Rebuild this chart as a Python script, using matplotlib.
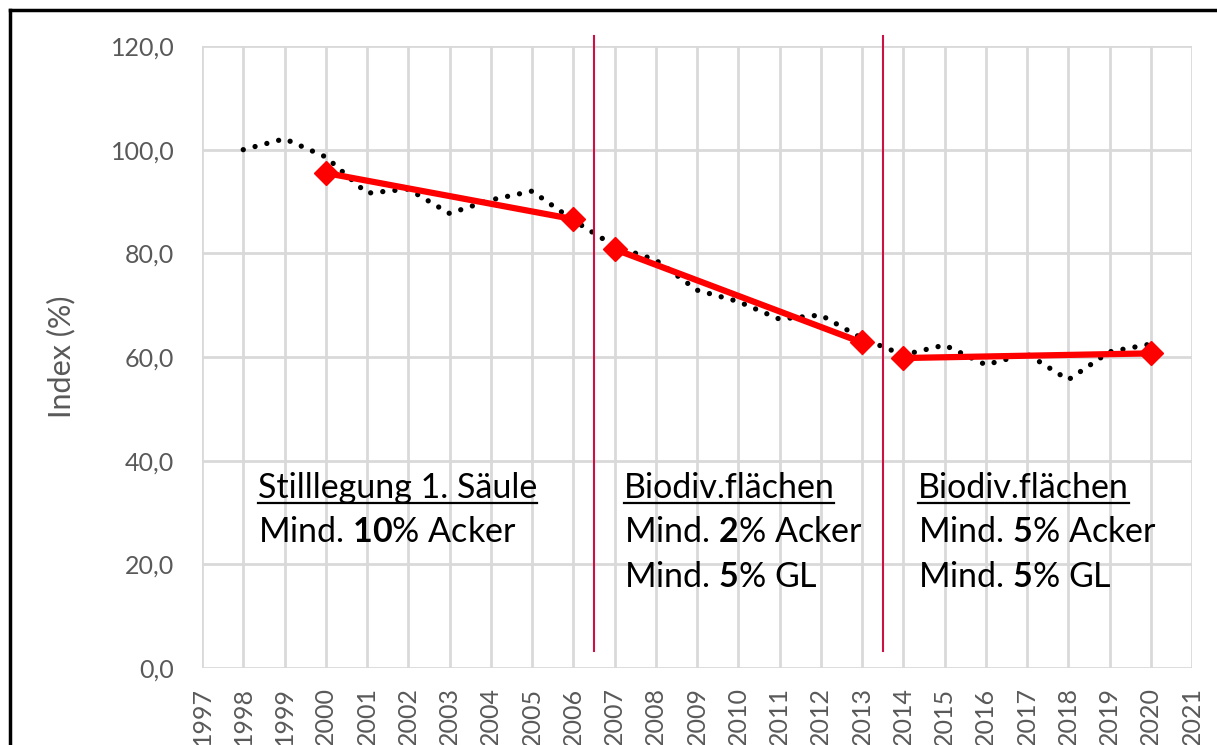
import matplotlib.pyplot as plt
from matplotlib.lines import Line2D

plt.rcParams['font.family'] = ['Lato', 'DejaVu Sans']
plt.rcParams['mathtext.fontset'] = 'custom'
plt.rcParams['mathtext.rm'] = 'Lato'
plt.rcParams['mathtext.bf'] = 'Lato:bold'

# data
years = list(range(1998, 2021))
index_vals = [100.0, 102.1, 98.6, 91.6, 92.4, 87.7, 90.3, 92.0, 86.4, 81.4, 78.7,
              72.9, 70.7, 67.3, 68.1, 63.6, 60.4, 62.3, 58.5, 60.6, 55.6, 61.0, 62.5]

trend_years = [[2000, 2006], [2007, 2013], [2014, 2020]]
trend_vals = [[95.5, 86.6], [80.8, 62.8], [59.8, 60.7]]

breaks = [2006.5, 2013.5]

titles = ['Stilllegung 1. Säule', 'Biodiv.flächen', 'Biodiv.flächen']
lines = [[r'Mind. $\mathbf{10}$% Acker'],
         [r'Mind. $\mathbf{2}$% Acker', r'Mind. $\mathbf{5}$% GL'],
         [r'Mind. $\mathbf{5}$% Acker', r'Mind. $\mathbf{5}$% GL']]
text_x = [1998.36, 2007.22, 2014.35]

fig = plt.figure(figsize=(12.17, 7.45), dpi=100)
ax = fig.add_axes([202/1217, 1 - 668/745, 990/1217, 622/745])

ax.plot(years, index_vals, color='black', lw=3.8, linestyle=(0, (0.01, 2.3)),
        dash_capstyle='round', zorder=3)
for xs, ys in zip(trend_years, trend_vals):
    ax.plot(xs, ys, color='#ff0000', lw=4.5, marker='D', markersize=12, zorder=4)

for b in breaks:
    ax.plot([b, b], [3.3, 122.0], color='#cc1144', lw=1.5, clip_on=False, zorder=5)

ax.set_xlim(1997, 2021)
ax.set_ylim(0, 120)
ax.set_xticks(range(1997, 2022))
ax.set_xticklabels([str(y) for y in range(1997, 2022)], rotation=90, va='top')
ax.set_yticks(range(0, 121, 20))
ax.set_yticklabels([f'{v},0' for v in range(0, 121, 20)])
ax.tick_params(axis='both', length=0, labelsize=18, labelcolor='#595959')
ax.tick_params(axis='y', pad=20)
ax.tick_params(axis='x', pad=14)
ax.grid(True, color='#d9d9d9', lw=2)
ax.set_axisbelow(True)
for s in ax.spines.values():
    s.set_visible(False)
ax.set_ylabel('Index (%)', fontsize=22, color='#595959')
ax.yaxis.set_label_coords(-0.128, 0.5)

# text blocks
fig.canvas.draw()
renderer = fig.canvas.get_renderer()
base = [32.8, 24.3, 15.6]
for tx, title, sub in zip(text_x, titles, lines):
    t = ax.text(tx, base[0], title, fontsize=24.5, va='baseline', ha='left', zorder=6)
    bb = t.get_window_extent(renderer)
    x0, _ = ax.transData.inverted().transform((bb.x0, bb.y0))
    x1, _ = ax.transData.inverted().transform((bb.x1, bb.y0))
    ax.plot([x0, x1], [31.9, 31.9], color='black', lw=1.6, zorder=6)
    for i, s in enumerate(sub):
        ax.text(tx, base[i + 1], s, fontsize=24.5, va='baseline', ha='left', zorder=6)

# frame: left and top only (rest is cut off)
fx, fy = 10/1217, 1 - 10/745
fig.add_artist(Line2D([fx, fx], [0, fy], transform=fig.transFigure, color='black', lw=2.5))
fig.add_artist(Line2D([fx, 1], [fy, fy], transform=fig.transFigure, color='black', lw=2.5))

fig.savefig('out.png', dpi=100)
